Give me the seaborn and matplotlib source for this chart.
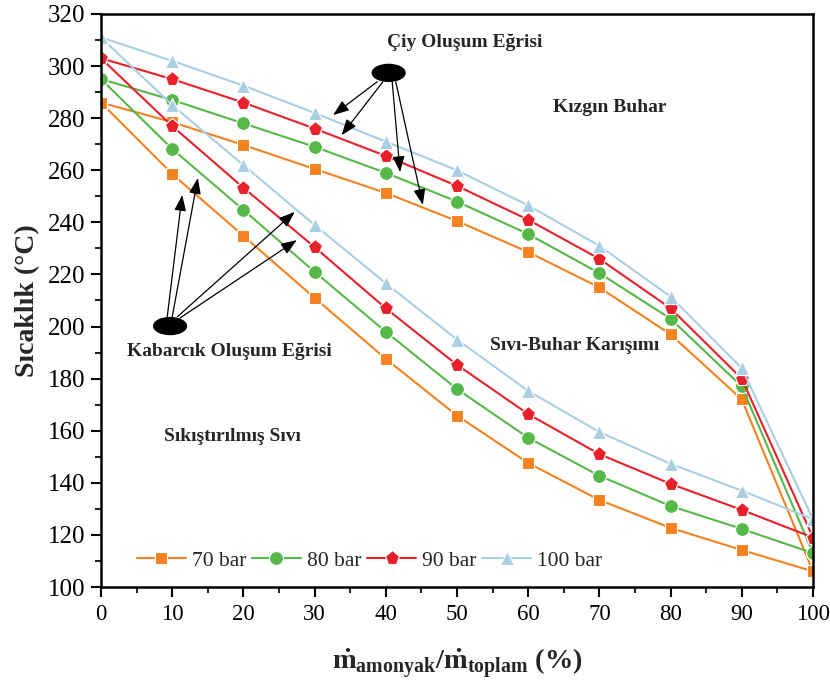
import matplotlib
matplotlib.use("Agg")
import matplotlib.pyplot as plt
from matplotlib.patches import Ellipse
from matplotlib.lines import Line2D
from matplotlib.ticker import MultipleLocator
import pandas as pd
import seaborn as sns

# Ammonia mass fraction in the mixture (%)
fraction = [0, 10, 20, 30, 40, 50, 60, 70, 80, 90, 100]

# Dew-point temperatures (°C) per pressure
dew_70 = [286, 278.5, 269.7, 260.5, 251.3, 240.5, 228.6, 215, 197, 172, 106]
dew_80 = [295, 287, 278, 269, 259, 248, 235.5, 220.5, 203, 177, 113]
dew_90 = [303, 295, 286, 276, 265.5, 254, 241, 226, 207, 180, 119]
dew_100 = [311, 302, 292.5, 282, 271, 260, 246.5, 231, 211.5, 184, 126]

# Bubble-point temperatures (°C) per pressure
bub_70 = [286, 258.6, 234.8, 211, 187.6, 165.8, 147.6, 133.4, 122.7, 114.2, 106]
bub_80 = [295, 268.2, 244.8, 221, 198, 176, 157.3, 142.7, 131.1, 122.3, 113]
bub_90 = [303, 277, 253.3, 230.5, 207, 185.3, 166.4, 151, 139.6, 129.6, 119]
bub_100 = [311, 285, 262, 239, 216.6, 195, 175.3, 159.5, 147.3, 137, 126]

pressures = ["70 bar", "80 bar", "90 bar", "100 bar"]
colors = ["#F5821F", "#55B848", "#E8202A", "#A9CFE3"]
markers = ["s", "o", "p", "^"]
marker_sizes = [9, 10, 11, 10]

dew = [dew_70, dew_80, dew_90, dew_100]
bub = [bub_70, bub_80, bub_90, bub_100]

rows = []
for p, d, b in zip(pressures, dew, bub):
    for x, t in zip(fraction, d):
        rows.append({"x": x, "T": t, "Basınç": p, "curve": p + " dew"})
    for x, t in zip(fraction, b):
        rows.append({"x": x, "T": t, "Basınç": p, "curve": p + " bub"})
df = pd.DataFrame(rows)

sns.set_theme(style="ticks")
plt.rcParams["font.family"] = ["Liberation Serif", "DejaVu Serif"]
plt.rcParams["mathtext.fontset"] = "custom"
plt.rcParams["mathtext.rm"] = "Liberation Serif"
plt.rcParams["mathtext.bf"] = "Liberation Serif:bold"
plt.rcParams["mathtext.it"] = "Liberation Serif:italic"

fig = plt.figure(figsize=(8.30, 6.89), dpi=100)
ax = fig.add_axes([101 / 830, 1 - 587 / 689, 712 / 830, 573 / 689])

palette = dict(zip(pressures, colors))
mk = dict(zip(pressures, markers))
for p, ms in zip(pressures, marker_sizes):
    sub = df[df["Basınç"] == p]
    sns.lineplot(
        data=sub, x="x", y="T", units="curve", estimator=None,
        color=palette[p], marker=mk[p], markersize=ms,
        markeredgecolor="white", markeredgewidth=0.8,
        linewidth=1.5, sort=False, ax=ax, legend=False,
    )

# Legend built from one handle per pressure
handles = [
    Line2D([], [], color=c, marker=m, markersize=ms, markeredgecolor="white",
           markeredgewidth=0.8, linewidth=1.5)
    for c, m, ms in zip(colors, markers, marker_sizes)
]
ax.legend(handles, pressures, loc="center left", bbox_to_anchor=(0.05, 0.046),
          ncol=4, frameon=False, fontsize=15.5, handlelength=2.3,
          handletextpad=0.27, columnspacing=0.25, borderpad=0, borderaxespad=0)

ax.set_xlim(0, 100)
ax.set_ylim(100, 320)
ax.xaxis.set_major_locator(MultipleLocator(10))
ax.xaxis.set_minor_locator(MultipleLocator(5))
ax.yaxis.set_major_locator(MultipleLocator(20))
ax.yaxis.set_minor_locator(MultipleLocator(10))
ax.tick_params(which="major", direction="out", length=7, width=1.5,
               colors="black", pad=4)
ax.tick_params(axis="y", labelsize=18)
ax.tick_params(axis="x", labelsize=16.5, pad=5)
ax.tick_params(which="minor", direction="out", length=4, width=1.5)
for s in ax.spines.values():
    s.set_linewidth(1.8)
    s.set_color("black")

ax.set_ylabel("Sıcaklık (°C)", fontsize=20, fontweight="bold", labelpad=6)
ax.set_xlabel(r"$\mathbf{\dot{m}_{amonyak}/\dot{m}_{toplam}}$ (%)",
              fontsize=20.5, fontweight="bold", labelpad=16)

# Region and curve labels
txt = dict(fontsize=14, fontweight="bold", ha="center", va="center")
ax.text(51.1, 309.1, "Çiy Oluşum Eğrisi", **txt)
ax.text(71.5, 284.0, "Kızgın Buhar", **txt)
ax.text(66.5, 192.6, "Sıvı-Buhar Karışımı", **txt)
ax.text(18.1, 190.3, "Kabarcık Oluşum Eğrisi", **txt)
ax.text(18.5, 157.6, "Sıkıştırılmış Sıvı", **txt)

# Callout ellipses with arrows
ax.add_patch(Ellipse((40.4, 297.4), 4.6, 6.5, color="black", zorder=5))
ax.add_patch(Ellipse((9.7, 200.2), 4.6, 6.5, color="black", zorder=5))

arrow = dict(arrowstyle="-|>,head_length=0.8,head_width=0.3", color="black",
             lw=0.9, shrinkA=0, shrinkB=0)
top_starts = [(38.8, 294.0), (39.6, 294.0), (40.9, 294.0), (41.4, 294.0)]
top_tips = [(32.6, 281.2), (33.8, 273.5), (42.0, 259.3), (45.2, 246.7)]
for s, t in zip(top_starts, top_tips):
    ax.annotate("", xy=t, xytext=s, arrowprops=arrow)

bot_starts = [(9.3, 203.7), (10.0, 203.7), (10.7, 203.7), (11.1, 203.3)]
bot_tips = [(11.4, 250.5), (13.6, 257.0), (27.2, 244.0), (27.5, 233.2)]
for s, t in zip(bot_starts, bot_tips):
    ax.annotate("", xy=t, xytext=s, arrowprops=arrow)

fig.savefig("out.png", dpi=100)
